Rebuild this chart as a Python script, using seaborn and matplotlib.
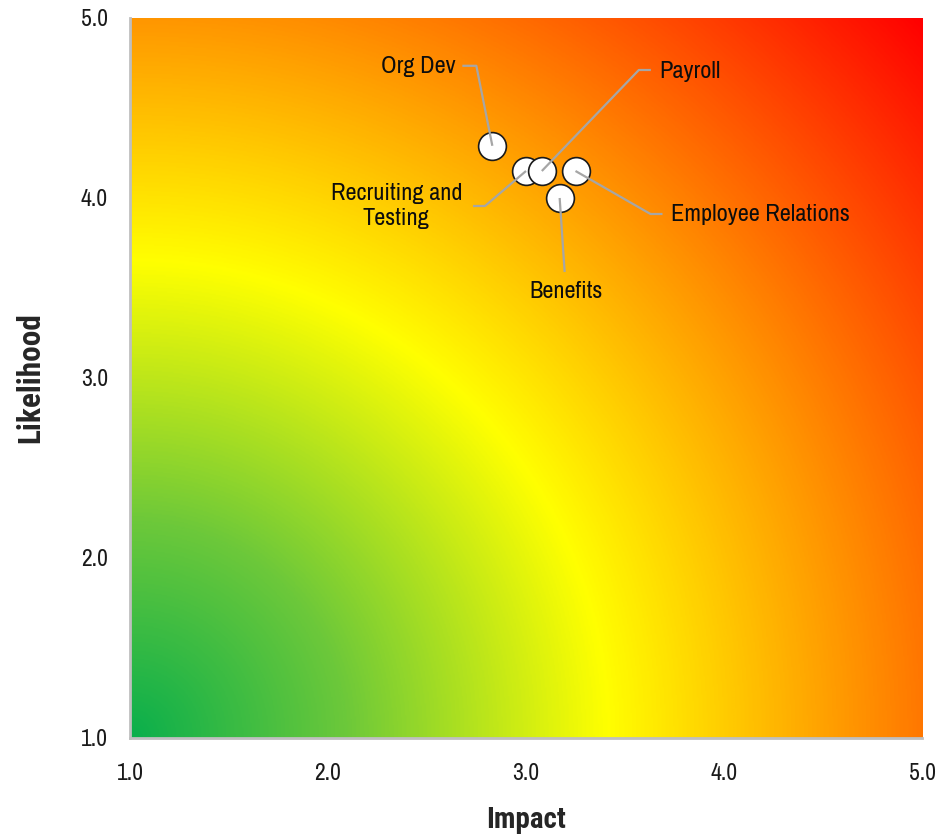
import numpy as np
import pandas as pd
import matplotlib
matplotlib.use('Agg')
import matplotlib.pyplot as plt
import seaborn as sns
from matplotlib.colors import LinearSegmentedColormap

# Risk data (Impact vs Likelihood)
areas = ['Org Dev', 'Recruiting and\nTesting', 'Payroll', 'Benefits', 'Employee Relations']
impact = [2.83, 3.00, 3.08, 3.17, 3.25]
likelihood = [4.29, 4.15, 4.15, 4.00, 4.15]

ticks = [1.0, 2.0, 3.0, 4.0, 5.0]
tick_labels = ['1.0', '2.0', '3.0', '4.0', '5.0']

df = pd.DataFrame({'area': areas, 'impact': impact, 'likelihood': likelihood})

sns.set_style('white')
plt.rcParams['font.family'] = ['Archivo Narrow', 'DejaVu Sans']
title_font = ['Roboto Condensed', 'IBM Plex Sans Condensed', 'DejaVu Sans']

W, H = 938, 836
fig = plt.figure(figsize=(W / 100, H / 100), dpi=100)
ax = fig.add_axes([130 / W, 1 - 738 / H, 792 / W, 720 / H])

# radial gradient from the bottom-left corner, circular in screen space
aw, ah = 792, 720
gx = np.linspace(0, 1, 600)
gy = np.linspace(0, 1, 600)
GX, GY = np.meshgrid(gx, gy)
dist = np.sqrt((GX * aw) ** 2 + (GY * ah) ** 2) / np.hypot(aw, ah)
cmap = LinearSegmentedColormap.from_list(
    'risk', [(0.0, '#0AAF4C'), (0.2, '#6CC83A'), (0.445, '#FFFF00'), (1.0, '#FF0000')])
ax.imshow(dist, cmap=cmap, vmin=0, vmax=1, origin='lower',
          extent=[1, 5, 1, 5], aspect='auto', interpolation='bilinear', zorder=0)

sns.scatterplot(data=df, x='impact', y='likelihood', ax=ax, s=400,
                color='white', edgecolor='#1A1A1A', linewidth=1.2, zorder=3,
                legend=False)

# label placement: elbow / line end / text anchor, as pixel offsets from the point
px_x = 792 / 4.0
px_y = 720 / 4.0
label_style = {
    'Org Dev': dict(elbow=(-16, -80), end=(-30, -80), text=(-37, -79), ha='right'),
    'Recruiting and\nTesting': dict(elbow=(-41, 35), end=(-53, 35), text=(-64, 35), ha='right'),
    'Payroll': dict(elbow=(97, -101), end=(109, -101), text=(117, -100), ha='left'),
    'Benefits': dict(elbow=(5, 74), end=(5, 74), text=(6, 93), ha='center'),
    'Employee Relations': dict(elbow=(75, 43), end=(87, 43), text=(95, 44), ha='left'),
}

for _, row in df.iterrows():
    st = label_style[row['area']]
    x0, y0 = row['impact'], row['likelihood']
    ex, ey = x0 + st['elbow'][0] / px_x, y0 - st['elbow'][1] / px_y
    nx, ny = x0 + st['end'][0] / px_x, y0 - st['end'][1] / px_y
    ax.plot([x0, ex, nx], [y0, ey, ny], color='#A6A6A6', lw=1.6, zorder=4,
            solid_capstyle='butt')
    tx, ty = x0 + st['text'][0] / px_x, y0 - st['text'][1] / px_y
    ax.text(tx, ty, row['area'], ha=st['ha'], va='center', fontsize=17.5,
            color='#0D0D0D', multialignment='center', linespacing=1.2, zorder=5)

ax.set_xlim(1, 5)
ax.set_ylim(1, 5)
ax.set_xticks(ticks)
ax.set_xticklabels(tick_labels)
ax.set_yticks(ticks)
ax.set_yticklabels(tick_labels)
ax.tick_params(axis='both', length=0, labelsize=17, colors='#1A1A1A')
ax.tick_params(axis='x', pad=18)
ax.tick_params(axis='y', pad=16)

for side in ['top', 'right']:
    ax.spines[side].set_visible(False)
for side in ['left', 'bottom']:
    ax.spines[side].set_color('#BFBFBF')
    ax.spines[side].set_linewidth(2)
    ax.spines[side].set_zorder(6)

ax.set_xlabel('Impact', fontsize=21, fontweight='bold', family=title_font)
ax.set_ylabel('Likelihood', fontsize=22.5, fontweight='bold', family=title_font)
ax.xaxis.set_label_coords(0.5, (738 - 820) / 720)
ax.yaxis.set_label_coords((30 - 130) / 792, 0.5)
ax.xaxis.label.set_va('center')
ax.yaxis.label.set_va('center')

fig.savefig('out.png', dpi=100)
